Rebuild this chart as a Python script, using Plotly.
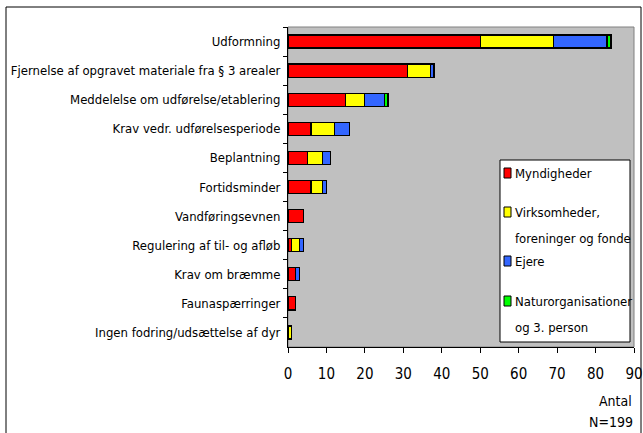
import plotly.graph_objects as go

categories = [
    "Udformning",
    "Fjernelse af opgravet materiale fra § 3 arealer",
    "Meddelelse om udførelse/etablering",
    "Krav vedr. udførelsesperiode",
    "Beplantning",
    "Fortidsminder",
    "Vandføringsevnen",
    "Regulering af til- og afløb",
    "Krav om bræmme",
    "Faunaspærringer",
    "Ingen fodring/udsættelse af dyr",
]
myndigheder = [50, 31, 15, 6, 5, 6, 4, 1, 2, 2, 0]
virksomheder = [19, 6, 5, 6, 4, 3, 0, 2, 0, 0, 1]
ejere = [14, 1, 5, 4, 2, 1, 0, 1, 1, 0, 0]
natur = [1, 0, 1, 0, 0, 0, 0, 0, 0, 0, 0]

series_names = ["Myndigheder", "Virksomheder, foreninger og fonde", "Ejere",
                "Naturorganisationer og 3. person"]
series_values = [myndigheder, virksomheder, ejere, natur]
colors = ["#FF0000", "#FFFF00", "#3366FF", "#00FF00"]
x_ticks = [0, 10, 20, 30, 40, 50, 60, 70, 80, 90]

FONT = "DejaVu Sans Condensed, sans-serif"
FS = 13

fig = go.Figure()
for name, vals, col in zip(series_names, series_values, colors):
    fig.add_trace(go.Bar(
        y=categories, x=vals, name=name, orientation="h",
        marker=dict(color=col, line=dict(color="black", width=1.2)),
        width=0.45, showlegend=False,
    ))

# plot area geometry in pixels
L, R, T, B = 288, 634, 27, 347
W, H = 643, 433


def px(x):
    return (x - L) / (R - L)


def py(y):
    return (B - y) / (B - T)


shapes = []
annotations = []
# outer border
shapes.append(dict(type="rect", xref="paper", yref="paper",
                   x0=px(6), x1=px(641), y0=py(460), y1=py(7),
                   line=dict(color="black", width=1), layer="below"))
# plot area frame
shapes.append(dict(type="rect", xref="paper", yref="paper",
                   x0=0, x1=1, y0=0, y1=1,
                   line=dict(color="#808080", width=1), layer="below"))
# legend box
shapes.append(dict(type="rect", xref="paper", yref="paper",
                   x0=px(500), x1=px(630), y0=py(342), y1=py(160),
                   line=dict(color="black", width=1), fillcolor="white",
                   layer="above"))

legend_rows = [
    (colors[0], ["Myndigheder"], 173),
    (colors[1], ["Virksomheder,", "foreninger og fonde"], 212),
    (colors[2], ["Ejere"], 261),
    (colors[3], ["Naturorganisationer", "og 3. person"], 301),
]
for col, lines, yc in legend_rows:
    shapes.append(dict(type="rect", xref="paper", yref="paper",
                       x0=px(504), x1=px(511), y0=py(yc + 5), y1=py(yc - 5),
                       line=dict(color="black", width=1), fillcolor=col,
                       layer="above"))
    for i, t in enumerate(lines):
        annotations.append(dict(text=t, xref="paper", yref="paper",
                                x=px(513), y=py(yc + 26 * i),
                                xanchor="left", yanchor="middle",
                                showarrow=False,
                                font=dict(family=FONT, size=FS, color="black")))

annotations.append(dict(text="Antal", xref="paper", yref="paper",
                        x=px(634), y=py(401), xanchor="right", yanchor="middle",
                        showarrow=False, font=dict(family=FONT, size=FS + 1, color="black")))
annotations.append(dict(text="N=199", xref="paper", yref="paper",
                        x=px(635), y=py(422), xanchor="right", yanchor="middle",
                        showarrow=False, font=dict(family=FONT, size=FS + 1, color="black")))

fig.update_layout(
    barmode="stack",
    width=W, height=H,
    margin=dict(l=L, r=W - R, t=T, b=H - B, pad=0),
    paper_bgcolor="white",
    plot_bgcolor="#C0C0C0",
    font=dict(family=FONT, size=FS, color="black"),
    shapes=shapes,
    annotations=annotations,
    xaxis=dict(range=[0, 90], tickvals=x_ticks, showgrid=False, zeroline=False,
               showline=True, linecolor="black", linewidth=1,
               ticks="outside", ticklen=5, tickcolor="black", automargin=False,
               ticklabelstandoff=8,
               tickfont=dict(family=FONT, size=FS + 2, color="black")),
    yaxis=dict(autorange="reversed", showgrid=False, zeroline=False,
               showline=True, linecolor="black", linewidth=1,
               ticks="outside", ticklen=4, tickcolor="black", automargin=False,
               tickson="boundaries", ticklabelstandoff=4,
               tickfont=dict(family=FONT, size=FS, color="black")),
    bargap=0.55,
)

fig.write_html(
    "out.html",
    config={"displayModeBar": False},
    post_script="document.body.style.margin='0';document.body.style.padding='0';",
)
